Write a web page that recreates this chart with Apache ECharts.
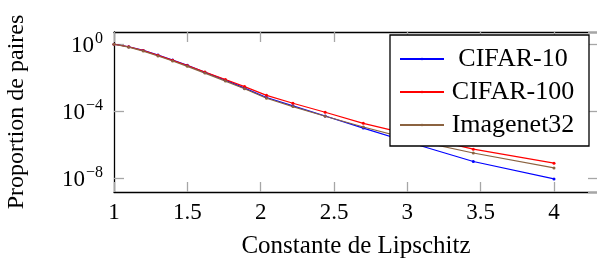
<!DOCTYPE html>
<html>
<head>
<meta charset="utf-8">
<script src="https://cdn.jsdelivr.net/npm/echarts@6/dist/echarts.min.js"></script>
<style>
  html, body { margin: 0; padding: 0; background: #fff; }
  #chart { width: 597px; height: 266px; }
</style>
</head>
<body>
<div id="chart"></div>
<script>
// Lipschitz constant values (x) and proportion of pairs per dataset
const lipschitz = [1.0, 1.1, 1.2, 1.3, 1.4, 1.5, 1.62, 1.76, 1.89, 2.04, 2.22, 2.44, 2.70, 3.05, 3.45, 4.0];
const cifar10 = [1, 0.71, 0.43, 0.23, 0.115, 0.055, 0.021, 7.2e-3, 2.4e-3, 6.6e-4, 2.1e-4, 5.2e-5, 9.8e-6, 1.1e-6, 1.0e-7, 9.1e-9];
const cifar100 = [1, 0.71, 0.42, 0.22, 0.11, 0.054, 0.022, 7.9e-3, 2.95e-3, 8.9e-4, 3.0e-4, 8.7e-5, 1.9e-5, 3.5e-6, 5.4e-7, 7.9e-8];
const imagenet32 = [1, 0.67, 0.39, 0.2, 0.1, 0.048, 0.019, 6.3e-3, 2.2e-3, 6.0e-4, 1.9e-4, 5.0e-5, 1.15e-5, 1.8e-6, 3.2e-7, 4.1e-8];

const seriesNames = ['CIFAR-10', 'CIFAR-100', 'Imagenet32'];
const seriesColors = ['#0000ff', '#ff0000', '#8b6340'];
const seriesData = [cifar10, cifar100, imagenet32];

const serif = 'Liberation Serif';

let chart = echarts.init(document.getElementById('chart'));

const pairs = (ys) => lipschitz.map((x, i) => [x, ys[i]]);

const frameLine = { show: true, lineStyle: { color: '#000', width: 1.3 } };
const grayTick = { show: true, inside: true, length: 10, lineStyle: { color: '#a6a6a6', width: 1.3 } };

const yMin = 1.5e-9;
const yMax = 5.4;

const option = {
    animation: false,
    backgroundColor: '#fff',
    grid: {
        left: 114,
        top: 32,
        width: 484,
        height: 160,
        containLabel: false,
        outerBoundsMode: 'none'
    },
    legend: {
        orient: 'vertical',
        left: 390,
        top: 35,
        padding: [9, 12, 6, 9],
        itemGap: 3,
        itemWidth: 44,
        itemHeight: 3,
        backgroundColor: '#fff',
        borderColor: '#000',
        borderWidth: 1.3,
        borderRadius: 0,
        data: seriesNames,
        formatter: (name) => '{t|' + name + '}',
        textStyle: {
            fontFamily: serif,
            fontSize: 26,
            color: '#000',
            rich: {
                t: {
                    fontFamily: serif,
                    fontSize: 26,
                    color: '#000',
                    width: 128,
                    height: 30,
                    lineHeight: 30,
                    align: 'center'
                }
            }
        }
    },
    xAxis: [
        {
            type: 'value',
            min: 1,
            max: 4.3,
            interval: 0.5,
            name: 'Constante de Lipschitz',
            nameLocation: 'middle',
            nameGap: 42,
            nameTextStyle: { fontFamily: serif, fontSize: 25, color: '#000' },
            axisLine: frameLine,
            axisTick: grayTick,
            splitLine: { show: false },
            axisLabel: {
                fontFamily: serif,
                fontSize: 23,
                color: '#000',
                margin: 9,
                showMaxLabel: false
            }
        },
        {
            type: 'value',
            position: 'top',
            min: 1,
            max: 4.3,
            interval: 0.5,
            axisLine: frameLine,
            axisTick: grayTick,
            splitLine: { show: false },
            axisLabel: { show: false }
        }
    ],
    yAxis: [
        {
            type: 'log',
            logBase: 10000,
            min: yMin,
            max: yMax,
            splitNumber: 2,
            name: 'Proportion de paires',
            nameLocation: 'middle',
            nameGap: 85,
            nameTextStyle: { fontFamily: serif, fontSize: 24, color: '#000' },
            axisLine: frameLine,
            axisTick: grayTick,
            splitLine: { show: false },
            minorTick: { show: false },
            axisLabel: {
                margin: 11,
                showMinLabel: false,
                showMaxLabel: false,
                formatter: (v) => {
                    const e = Math.round(Math.log10(v));
                    return '{b|10}{s|' + (e < 0 ? '\u2212' + (-e) : e) + '}';
                },
                rich: {
                    b: { fontFamily: serif, fontSize: 23, color: '#000', verticalAlign: 'bottom' },
                    s: { fontFamily: serif, fontSize: 16, color: '#000', verticalAlign: 'top', padding: [0, 0, 10, 1] }
                }
            }
        },
        {
            type: 'log',
            logBase: 10000,
            position: 'right',
            min: yMin,
            max: yMax,
            splitNumber: 2,
            axisLine: frameLine,
            axisTick: grayTick,
            splitLine: { show: false },
            minorTick: { show: false },
            axisLabel: { show: false }
        }
    ],
    series: seriesNames.map((name, i) => ({
        name: name,
        type: 'line',
        color: seriesColors[i],
        symbol: 'circle',
        symbolSize: 3,
        showSymbol: true,
        lineStyle: { width: 1.2 },
        data: pairs(seriesData[i])
    }))
};

chart.setOption(option);
</script>
</body>
</html>
